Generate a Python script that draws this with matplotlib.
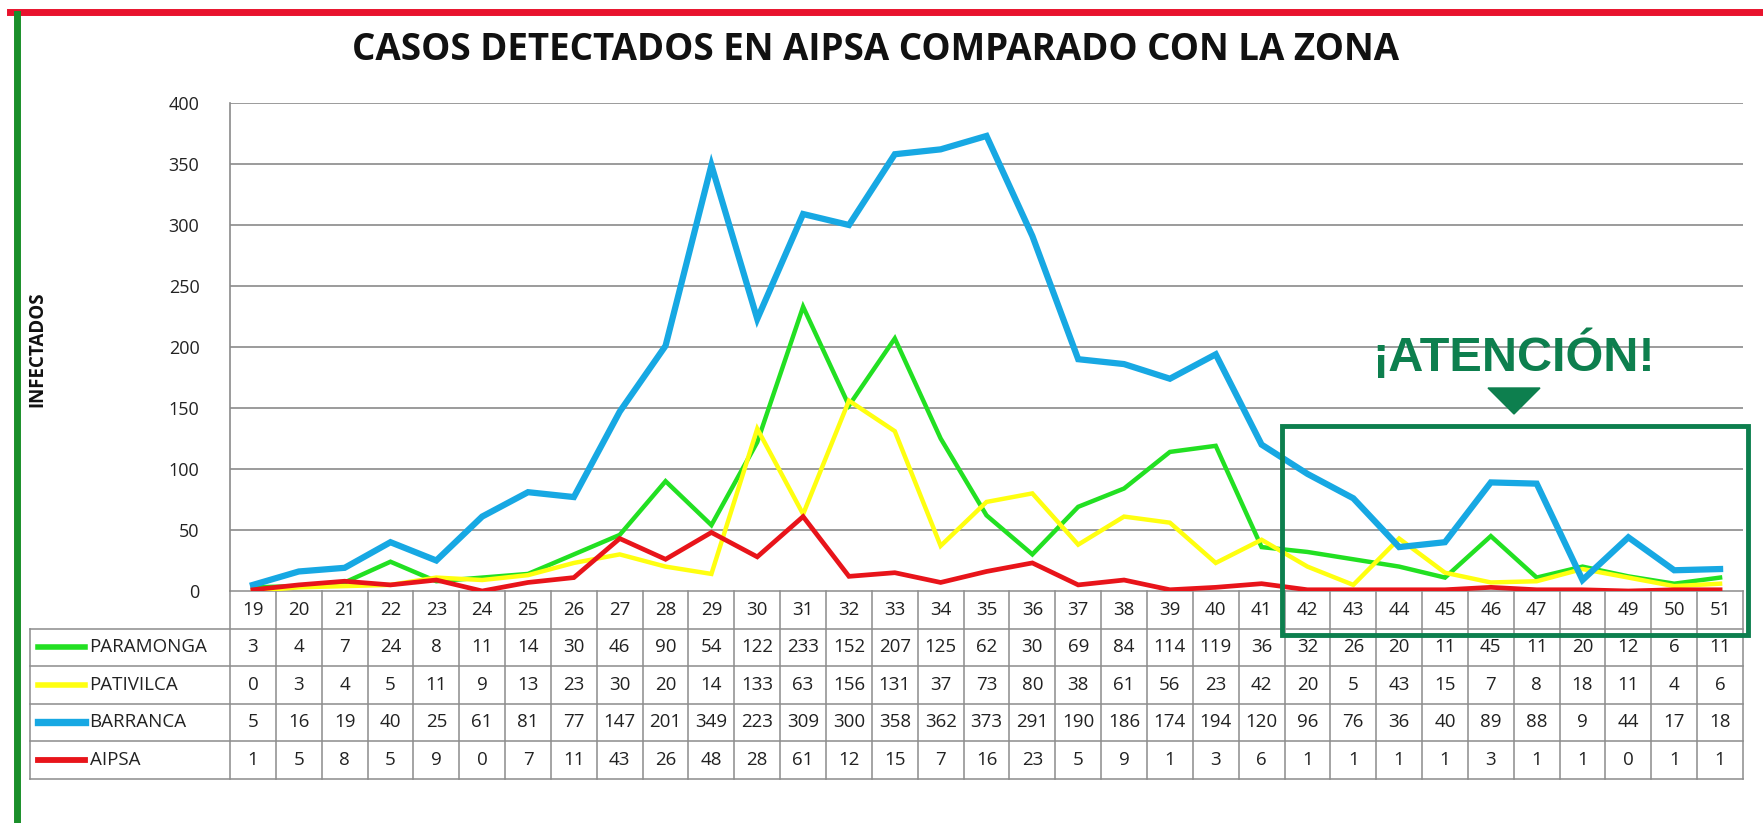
import matplotlib
matplotlib.use("Agg")
import matplotlib.pyplot as plt
from matplotlib.patches import Rectangle, Polygon
from matplotlib.lines import Line2D

weeks = list(range(19, 52))
paramonga = [3,4,7,24,8,11,14,30,46,90,54,122,233,152,207,125,62,30,69,84,114,119,36,32,26,20,11,45,11,20,12,6,11]
pativilca = [0,3,4,5,11,9,13,23,30,20,14,133,63,156,131,37,73,80,38,61,56,23,42,20,5,43,15,7,8,18,11,4,6]
barranca = [5,16,19,40,25,61,81,77,147,201,349,223,309,300,358,362,373,291,190,186,174,194,120,96,76,36,40,89,88,9,44,17,18]
aipsa = [1,5,8,5,9,0,7,11,43,26,48,28,61,12,15,7,16,23,5,9,1,3,6,1,1,1,1,3,1,1,0,1,1]
series_names = ["PARAMONGA", "PATIVILCA", "BARRANCA", "AIPSA"]
yticks = [0, 50, 100, 150, 200, 250, 300, 350, 400]

colors = ["#22e022", "#ffff10", "#17a8e3", "#e8141a"]
widths = [3.2, 3.2, 4.5, 3.4]
series = [paramonga, pativilca, barranca, aipsa]

W, H = 1763, 823
fig = plt.figure(figsize=(W/100, H/100), dpi=100)
FONT = "Open Sans"

ax_l, ax_r, ax_t, ax_b = 230, 1743, 103, 591
ax = fig.add_axes([ax_l/W, 1-ax_b/H, (ax_r-ax_l)/W, (ax_b-ax_t)/H])
ax.set_xlim(weeks[0]-0.5, weeks[-1]+0.5)
ax.set_ylim(0, 400)
for i, (s, c, lw) in enumerate(zip(series, colors, widths)):
    ax.plot(weeks, s, color=c, lw=lw, zorder=3+i, solid_joinstyle="miter")
ax.set_yticks(yticks)
ax.set_yticklabels([str(v) for v in yticks], fontsize=13, family=FONT, color="#222222")
ax.tick_params(axis="y", length=0, pad=22)
ax.set_xticks([])
for y in yticks[1:]:
    ax.axhline(y, color="#8a8a8a", lw=1.2, zorder=1)
for sp in ["top", "right", "bottom"]:
    ax.spines[sp].set_visible(False)
ax.spines["left"].set_color("#8a8a8a")
ax.spines["left"].set_linewidth(1.2)

# Table below axes
axh = ax_b - ax_t
row_h = 37.5 / axh
colw_px = (ax_r - ax_l) / len(weeks)
label_left = weeks[0]-0.5 - (ax_l-30)/colw_px
xl, xr = weeks[0]-0.5, weeks[-1]+0.5
gc = "#8c8c8c"
tf = ax.get_xaxis_transform()
tk = dict(clip_on=False, color=gc, lw=1.1, zorder=2, transform=tf)
ax.plot([xl, xr], [0, 0], **tk)
for k in range(1, 6):
    y = -row_h*k
    ax.plot([label_left, xr], [y, y], **tk)
for j in range(len(weeks)+1):
    x = xl + j
    ax.plot([x, x], [0, -5*row_h], **tk)
ax.plot([label_left, label_left], [-row_h, -5*row_h], **tk)

for j, w in enumerate(weeks):
    ax.text(w, -row_h*0.5, str(w), transform=tf, ha="center", va="center",
            fontsize=13.5, family=FONT, color="#222222", clip_on=False)
for r, (name, s, c) in enumerate(zip(series_names, series, colors)):
    yc = -row_h*(r+1.5)
    ax.add_line(Line2D([label_left+0.17, label_left+1.2], [yc, yc], transform=tf,
                       color=c, lw=widths[r]+0.8, clip_on=False))
    ax.text(label_left+1.3, yc, name, transform=tf, ha="left", va="center",
            fontsize=13.5, family=FONT, color="#222222", clip_on=False)
    for w, v in zip(weeks, s):
        ax.text(w, yc, str(v), transform=tf, ha="center", va="center",
                fontsize=13.5, family=FONT, color="#222222", clip_on=False)

# Title and y label
fig.text(876/W, 1-50/H, "CASOS DETECTADOS EN AIPSA COMPARADO CON LA ZONA",
         ha="center", va="center", fontsize=26.5, fontweight="bold", family=FONT, color="#111111")
fig.text(37/W, 1-349/H, "INFECTADOS", rotation=90, ha="center", va="center",
         fontsize=13.5, fontweight="bold", family=FONT, color="#111111")

# Attention annotation
gcol = "#0d7f4e"
fig.text(1514/W, 1-356/H, "¡ATENCIÓN!", ha="center", va="center", fontsize=35,
         fontweight="bold", family="Liberation Sans", color=gcol)
fig.patches.append(Polygon([[1488/W, 1-388/H], [1540/W, 1-388/H], [1514/W, 1-414/H]],
                           closed=True, transform=fig.transFigure, color=gcol))
fig.patches.append(Rectangle((1282/W, 1-635/H), (1748-1282)/W, (635-426)/H,
                             transform=fig.transFigure, fill=False, ec=gcol, lw=3.5, zorder=10))

# Frame decorations
fig.add_artist(Line2D([10/W, 1], [1-11.5/H, 1-11.5/H], transform=fig.transFigure, color="#e8132d", lw=5))
fig.add_artist(Line2D([16.5/W, 16.5/W], [0, 1-14/H], transform=fig.transFigure, color="#1a8f2a", lw=5))

fig.savefig("out.png", dpi=100)
